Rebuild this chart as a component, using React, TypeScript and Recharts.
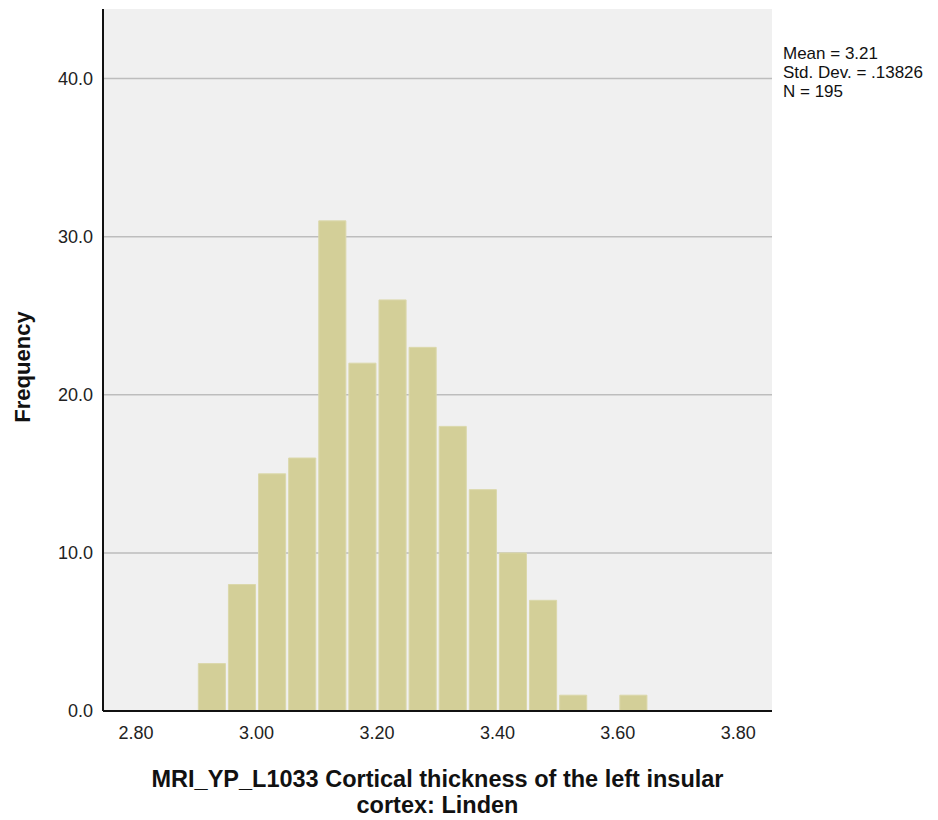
import React from 'react';
import {
    BarChart,
    Bar,
    XAxis,
    YAxis,
    CartesianGrid,
    Customized,
    Label
} from 'recharts';

// histogram bins (lower edge), width 0.05
const binStarts = [2.90, 2.95, 3.00, 3.05, 3.10, 3.15, 3.20, 3.25, 3.30, 3.35, 3.40, 3.45, 3.50, 3.55, 3.60];
const counts = [3, 8, 15, 16, 31, 22, 26, 23, 18, 14, 10, 7, 1, 0, 1];
const xTicks = [2.8, 3.0, 3.2, 3.4, 3.6, 3.8];
const yTicks = [0, 10, 20, 30, 40];
const statLines = ['Mean = 3.21', 'Std. Dev. = .13826', 'N = 195'];
const titleLines = ['MRI_YP_L1033 Cortical thickness of the left insular', 'cortex: Linden'];

const BIN = 0.05;
const X_DOMAIN: [number, number] = [2.745, 3.856];
const Y_DOMAIN: [number, number] = [0, 44.4];

const W = 938;
const H = 820;
const MARGIN = { top: 9, right: 166, left: 0, bottom: 0 };
const Y_AXIS_W = 103;
const X_AXIS_H = 109;
const PLOT_W = W - MARGIN.right - Y_AXIS_W;
const barSize = (PLOT_W * BIN) / (X_DOMAIN[1] - X_DOMAIN[0]);

const data = binStarts.map((start, i) => ({
    mid: +(start + BIN / 2).toFixed(3),
    count: counts[i]
}));

const FONT = '"Liberation Sans", Arial, sans-serif';

const Extras = () => (
    <g>
        {statLines.map((line, i) => (
            <text key={line} x={783} y={59 + i * 19} fontSize={17} fontFamily={FONT} fill="#111">
                {line}
            </text>
        ))}
        {titleLines.map((line, i) => (
            <text
                key={line}
                x={437.5}
                y={787 + i * 26}
                textAnchor="middle"
                fontSize={23.5}
                fontWeight="bold"
                fontFamily={FONT}
                fill="#111"
            >
                {line}
            </text>
        ))}
    </g>
);

const App = () => {
    return (
        <div style={{ position: 'absolute', left: 0, top: 0, width: W, height: H, background: '#fff' }}>
            <BarChart width={W} height={H} data={data} margin={MARGIN}>
                <CartesianGrid
                    vertical={false}
                    fill="#f0f0f0"
                    stroke="#bdbdbd"
                    strokeWidth={1.5}
                    horizontalValues={yTicks}
                />
                <XAxis
                    type="number"
                    dataKey="mid"
                    domain={X_DOMAIN}
                    ticks={xTicks}
                    allowDataOverflow
                    height={X_AXIS_H}
                    tickLine={false}
                    tickSize={0}
                    tickMargin={15}
                    axisLine={{ stroke: '#111', strokeWidth: 2 }}
                    tick={{ fontSize: 18, fill: '#222', fontFamily: FONT }}
                    tickFormatter={(v: number) => v.toFixed(2)}
                />
                <XAxis
                    xAxisId="top"
                    orientation="top"
                    type="number"
                    domain={X_DOMAIN}
                    height={0}
                    tick={false}
                    tickLine={false}
                    axisLine={{ stroke: '#8a8a8a', strokeWidth: 2 }}
                />
                <YAxis
                    type="number"
                    domain={Y_DOMAIN}
                    ticks={yTicks}
                    allowDataOverflow
                    width={Y_AXIS_W}
                    tickLine={false}
                    tickSize={0}
                    tickMargin={10}
                    axisLine={{ stroke: '#111', strokeWidth: 2 }}
                    tick={{ fontSize: 18, fill: '#222', fontFamily: FONT }}
                    tickFormatter={(v: number) => v.toFixed(1)}
                >
                    <Label
                        value="Frequency"
                        angle={-90}
                        position="center"
                        dx={-29}
                        dy={7}
                        style={{ fontSize: 22, fontWeight: 'bold', fill: '#111', fontFamily: FONT }}
                    />
                </YAxis>
                <YAxis
                    yAxisId="right"
                    orientation="right"
                    domain={Y_DOMAIN}
                    width={0}
                    tick={false}
                    tickLine={false}
                    axisLine={{ stroke: '#8a8a8a', strokeWidth: 2 }}
                />
                <Bar
                    dataKey="count"
                    fill="#d3cf98"
                    stroke="#dbd8ab"
                    strokeWidth={1}
                    barSize={barSize}
                    isAnimationActive={false}
                />
                <Customized component={Extras} />
            </BarChart>
        </div>
    );
};

export default App;
